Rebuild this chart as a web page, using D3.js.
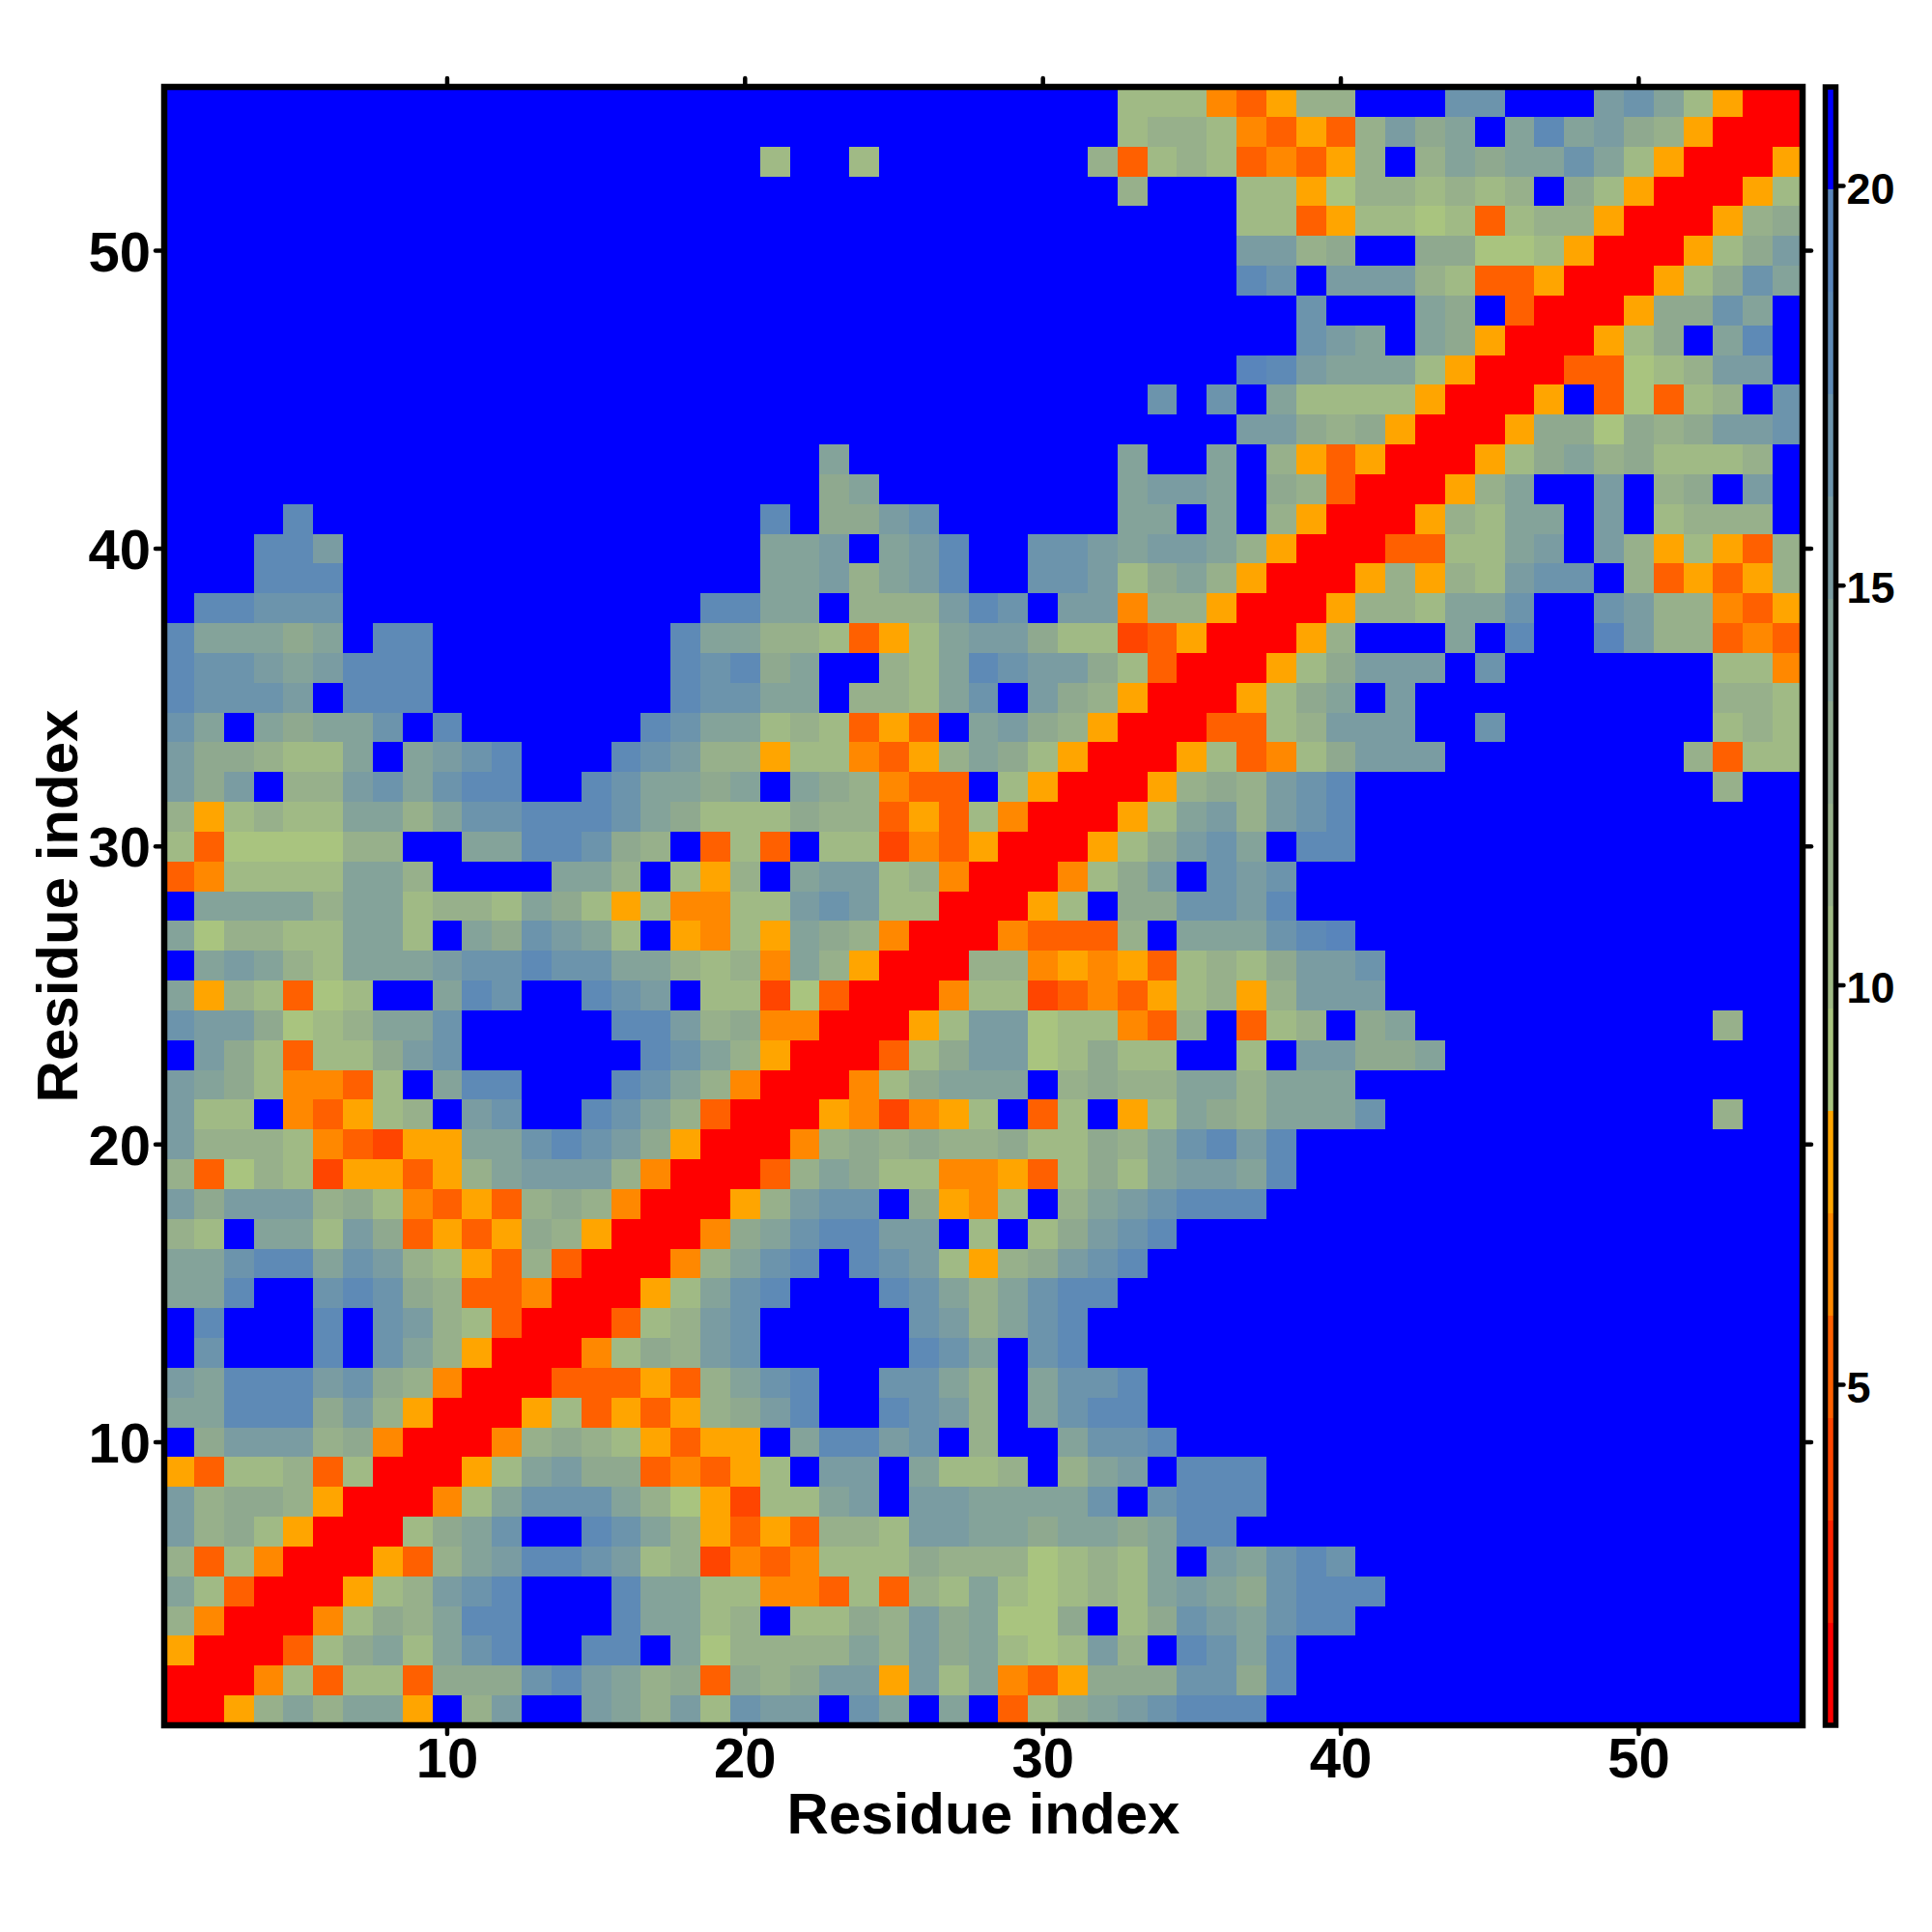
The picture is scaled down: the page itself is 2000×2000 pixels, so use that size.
<!DOCTYPE html>
<html>
<head>
<meta charset="utf-8">
<title>Residue contact map</title>
<script src="https://cdn.jsdelivr.net/npm/d3@7/dist/d3.min.js"></script>
<style>
html,body{margin:0;padding:0;background:#fff}
svg{display:block}
text{font-family:"Liberation Sans",Arial,sans-serif;font-weight:700;fill:#000}
</style>
</head>
<body>
<svg id="chart" width="2000" height="2000"></svg>
<script>
// Level code of every cell, hex digit per residue, 0 (closest) to F (farthest). Top row = residue 55.
const rowsTopDown = [
"FFFFFFFFFF FFFFFFFFFF FFFFFFFFFF FF77743588 FFFCCFFFBC A7500",
"FFFFFFFFFF FFFFFFFFFF FFFFFFFFFF FF78874353 8B9AFADAB9 85000",
"FFFFFFFFFF FFFFFFFFFF 7FF7FFFFFF F837873435 8F8A9AACA7 50005",
"FFFFFFFFFF FFFFFFFFFF FFFFFFFFFF FF8FFF7756 887878F975 00057",
"FFFFFFFFFF FFFFFFFFFF FFFFFFFFFF FFFFFF7735 7767378850 00589",
"FFFFFFFFFF FFFFFFFFFF FFFFFFFFFF FFFFFFBB89 FF99667500 0579B",
"FFFFFFFFFF FFFFFFFFFF FFFFFFFFFF FFFFFFDCFB BB87335000 579CA",
"FFFFFFFFFF FFFFFFFFFF FFFFFFFFFF FFFFFFFFCF FFA9F30005 99CAF",
"FFFFFFFFFF FFFFFFFFFF FFFFFFFFFF FFFFFFFFCB AFA9500057 9FADF",
"FFFFFFFFFF FFFFFFFFFF FFFFFFFFFF FFFFFFEDBA AA75000336 78BBF",
"FFFFFFFFFF FFFFFFFFFF FFFFFFFFFF FFFCFCFA77 7750005F36 378FC",
"FFFFFFFFFF FFFFFFFFFF FFFFFFFFFF FFFFFFBB98 9500059969 89BBC",
"FFFFFFFFFF FFFFFFFFFF FFAFFFFFFF FFAFFAF853 5000579A89 7778F",
"FFFFFFFFFF FFFFFFFFFF FF9AFFFFFF FFABBAF983 00058AFFBF 89FBF",
"FFFFDFFFFF FFFFFFFFFF DF99BCFFFF FFAAFAF850 00587AAFBF 7888F",
"FFFDDBFFFF FFFFFFFFFF AABFABDFFC CBABBA8500 03377ABFB8 57538",
"FFFDDDFFFF FFFFFFFFFF AAB8ABDFFC CB79A85000 58587BCCF8 35358",
"FDDCCCFFFF FFFFFFFFDD AAF888BDCF BB48850005 887AACFFCB 88435",
"DAAA9AFDDF FFFFFFFDAA 887357ABB9 7723500058 FFFAFDFFEB 88343",
"DCCBABDDDF FFFFFFFDCD 9AFF87ADCB B973000579 BBBFCFFFFF FF774",
"DCCCBFDDDF FFFFFFFDCC AAF887ACFB 985000579A FBFFFFFFFF FF887",
"CAFA9AACFD FFFFFFDCAA 787353FAB9 850003378B BBFFCFFFFF FF787",
"B99877AFAB CDFFFDCB88 5774358A97 5000573479 BBBFFFFFFF F8377",
"B9BF88BCAC DDFFDCAA9A FA98433F75 0005898BCD FFFFFFFFFF FF8FF",
"857877AA8A CCDDDCA977 7988353740 0057AB8BCD FFFFFFFFFF FFFFF",
"73666688FF AADDC98F37 3F77243500 0579BCAFDD FFFFFFFFFF FFFFF",
"347777AA8F FFFAA8F758 FABB784000 479BFCBCFF FFFFFFFFFF FFFFF",
"FAAAA8AA78 87A9757447 7BCB770005 7F99CCBDFF FFFFFFFFFF FFFFF",
"A68877AA7F A9CBA7F547 5A98400043 338FAAACDE FFFFFFFFFF FFFFF",
"FABA87AAAB CCDCCAA878 4A85000884 54537879BB CFFFFFFFFF FFFFF",
"A587367FFA DCFFDCBF77 2630004772 34357858BB BFFFFFFFFF FFFFF",
"CBB9678AAC FFFFFDDB89 4400057BB6 77438F378F 9AFFFFFFFF FF8FF",
"FB973779BC FFFFFFDCA8 5000379BB6 7977FF7FBB 99AFFFFFFF FFFFF",
"BA974437FA DDFFFDCA84 000479AAAF 8988AA8AAA FFFFFFFFFF FFFFF",
"B77F43578F BCFFDCA830 00542457F3 7F57A98AAA CFFFFFFFFF FF8FF",
"B888743255 AACDCB9500 0489898897 798ACDBDFF FFFFFFFFFF FFFFF",
"8368725535 8ABBB84000 38A9774453 797ABBADFF FFFFFFFFFF FFFFF",
"B9BBB89743 5389840005 8BCCF9547F 8ABCDDDFFF FFFFFFFFFF FFFFF",
"87FAA7B935 3598500049 ACDDBBF7F7 9BCDFFFFFF FFFFFFFFFF FFFFF",
"AACDDACB87 538300048A CDFDCB7589 BCDFFFFFFF FFFFFFFFFF FFFFF",
"AADFFCDC98 33400057AC DFFFDCA8AC DDFFFFFFFF FFFFFFFFFF FFFFF",
"FDFFFDFCB8 73000378BC FFFFFCB8AC DFFFFFFFFF FFFFFFFFFF FFFFF",
"FCFFFDFCA8 50004798BC FFFFFDCAFC DFFFFFFFFF FFFFFFFFFF FFFFF",
"BADDDBC984 000333538A CDFFCCA8FA CCDFFFFFFF FFFFFFFFFF FFFFF",
"AADDD9B850 0057353589 BDFFDCB8FA CDDFFFFFFF FFFFFFFFFF FFFFF",
"F9BBB89400 0489875355 FADDBCF8FF ACCDFFFFFF FFFFFFFFFF FFFFF",
"5377837000 57AB993435 7FBBFA778F 8ABFDDDFFF FFFFFFFFFF FFFFF",
"B899850004 7ACCCA8652 77ABFBBAAA ACFCDDDFFF FFFFFFFFFF FFFFF",
"B897500079 ACFFDCA853 53887BBAA9 AA9ADDFFFF FFFFFFFFFF FFFFF",
"8374000538 ABDDCB7824 3477798886 787AFBACDC FFFFFFFFFF FFFFF",
"A73000578B CDFFFDAA77 4437387A76 787ABA9CDD DFFFFFFFFF FFFFF",
"840004798A DDFFFDAA78 F7798B9A66 9F79CBACDD FFFFFFFFFF FFFFF",
"5000379A7A CDFFDDFA68 888A8B9A76 7B8FDCADFF FFFFFFFFFF FFFFF",
"0004737739 99CDBA8939 89BB5B7A43 5999CC9DFF FFFFFFFFFF FFFFF",
"0058A8AA5F 8BFFBA8B7C BBFCAFAF37 9ABCDDDFFF FFFFFFFFFF FFFFF"
];

const palette = ["#ff0000","#ff2200","#ff4500","#ff6000","#ff8800","#ffa500",
  "#a9c47f","#a0ba85","#97b08b","#8fa98f","#84a39a","#7a9ca2","#6c94ac","#5e8ab6","#5985bb","#0000ff"];
const axisTicks = [10,20,30,40,50];
const colorbarTicks = [5,10,15,20];
const levelMin = 0.74, levelMax = 21.24;
const nResidues = 55;

const x = d3.scaleLinear().domain([0.5, nResidues+0.5]).range([170,1866]);
const y = d3.scaleLinear().domain([0.5, nResidues+0.5]).range([1786,90]);
const bar = d3.scaleLinear().domain([levelMin, levelMax]).range([1786,90]);
const color = d3.scaleQuantize().domain([levelMin, levelMax]).range(palette);
const step = (levelMax-levelMin)/palette.length;

const cells = [];
rowsTopDown.forEach((row,i)=>{
  const codes = row.replace(/ /g,"");
  const residueY = nResidues - i;
  for(let c=0;c<codes.length;c++){
    const k = parseInt(codes[c],16);
    cells.push({x:c+1, y:residueY, value: levelMin + (k+0.5)*step});
  }
});

const svg = d3.select("#chart");
svg.append("rect").attr("width",2000).attr("height",2000).attr("fill","#fff");

svg.append("g").selectAll("rect").data(cells).join("rect")
  .attr("x",d=>x(d.x-0.5))
  .attr("y",d=>y(d.y+0.5))
  .attr("width",d=>x(d.x+0.5)-x(d.x-0.5))
  .attr("height",d=>y(d.y-0.5)-y(d.y+0.5))
  .attr("fill",d=>color(d.value))
  .attr("shape-rendering","crispEdges");

function styleAxis(g){
  g.select(".domain").remove();
  g.selectAll(".tick line").attr("stroke","#000").attr("stroke-width",4.5).attr("stroke-linecap","round");
}
const sz = 9;
const bottomAxis = svg.append("g").attr("transform","translate(0,1786)")
  .call(d3.axisBottom(x).tickValues(axisTicks).tickSize(sz).offset(0)).call(styleAxis);
bottomAxis.selectAll("text").attr("y",54).attr("dy",0).attr("font-size",58);

const leftAxis = svg.append("g").attr("transform","translate(170,0)")
  .call(d3.axisLeft(y).tickValues(axisTicks).tickSize(sz).offset(0)).call(styleAxis);
leftAxis.selectAll("text").attr("x",-14).attr("dy",21).attr("font-size",58);

svg.append("g").attr("transform","translate(0,90)")
  .call(d3.axisTop(x).tickValues(axisTicks).tickSize(sz).tickFormat("").offset(0)).call(styleAxis);
svg.append("g").attr("transform","translate(1866,0)")
  .call(d3.axisRight(y).tickValues(axisTicks).tickSize(sz).tickFormat("").offset(0)).call(styleAxis);

svg.append("rect").attr("x",x(0.5)).attr("y",y(nResidues+0.5))
  .attr("width",x(nResidues+0.5)-x(0.5)).attr("height",y(0.5)-y(nResidues+0.5))
  .attr("fill","none").attr("stroke","#000").attr("stroke-width",6.5);

// colour bar
const barX0 = 1889.5, barX1 = 1900.5;
svg.append("g").selectAll("rect").data(palette).join("rect")
  .attr("x",barX0).attr("width",barX1-barX0)
  .attr("y",(d,i)=>bar(levelMin+(i+1)*step))
  .attr("height",(d,i)=>bar(levelMin+i*step)-bar(levelMin+(i+1)*step))
  .attr("fill",d=>d)
  .attr("shape-rendering","crispEdges");
const barAxis = svg.append("g").attr("transform",`translate(${barX1},0)`)
  .call(d3.axisRight(bar).tickValues(colorbarTicks).tickSize(8).offset(0)).call(styleAxis);
barAxis.selectAll("text").attr("x",11).attr("dy",18).attr("font-size",45);
svg.append("rect").attr("x",barX0).attr("y",90).attr("width",barX1-barX0).attr("height",1696)
  .attr("fill","none").attr("stroke","#000").attr("stroke-width",5.5);

svg.append("text").attr("x",1018).attr("y",1898).attr("text-anchor","middle").attr("font-size",60).text("Residue index");
svg.append("text").attr("transform","translate(80,938) rotate(-90)").attr("text-anchor","middle").attr("font-size",60).text("Residue index");
</script>
</body>
</html>
